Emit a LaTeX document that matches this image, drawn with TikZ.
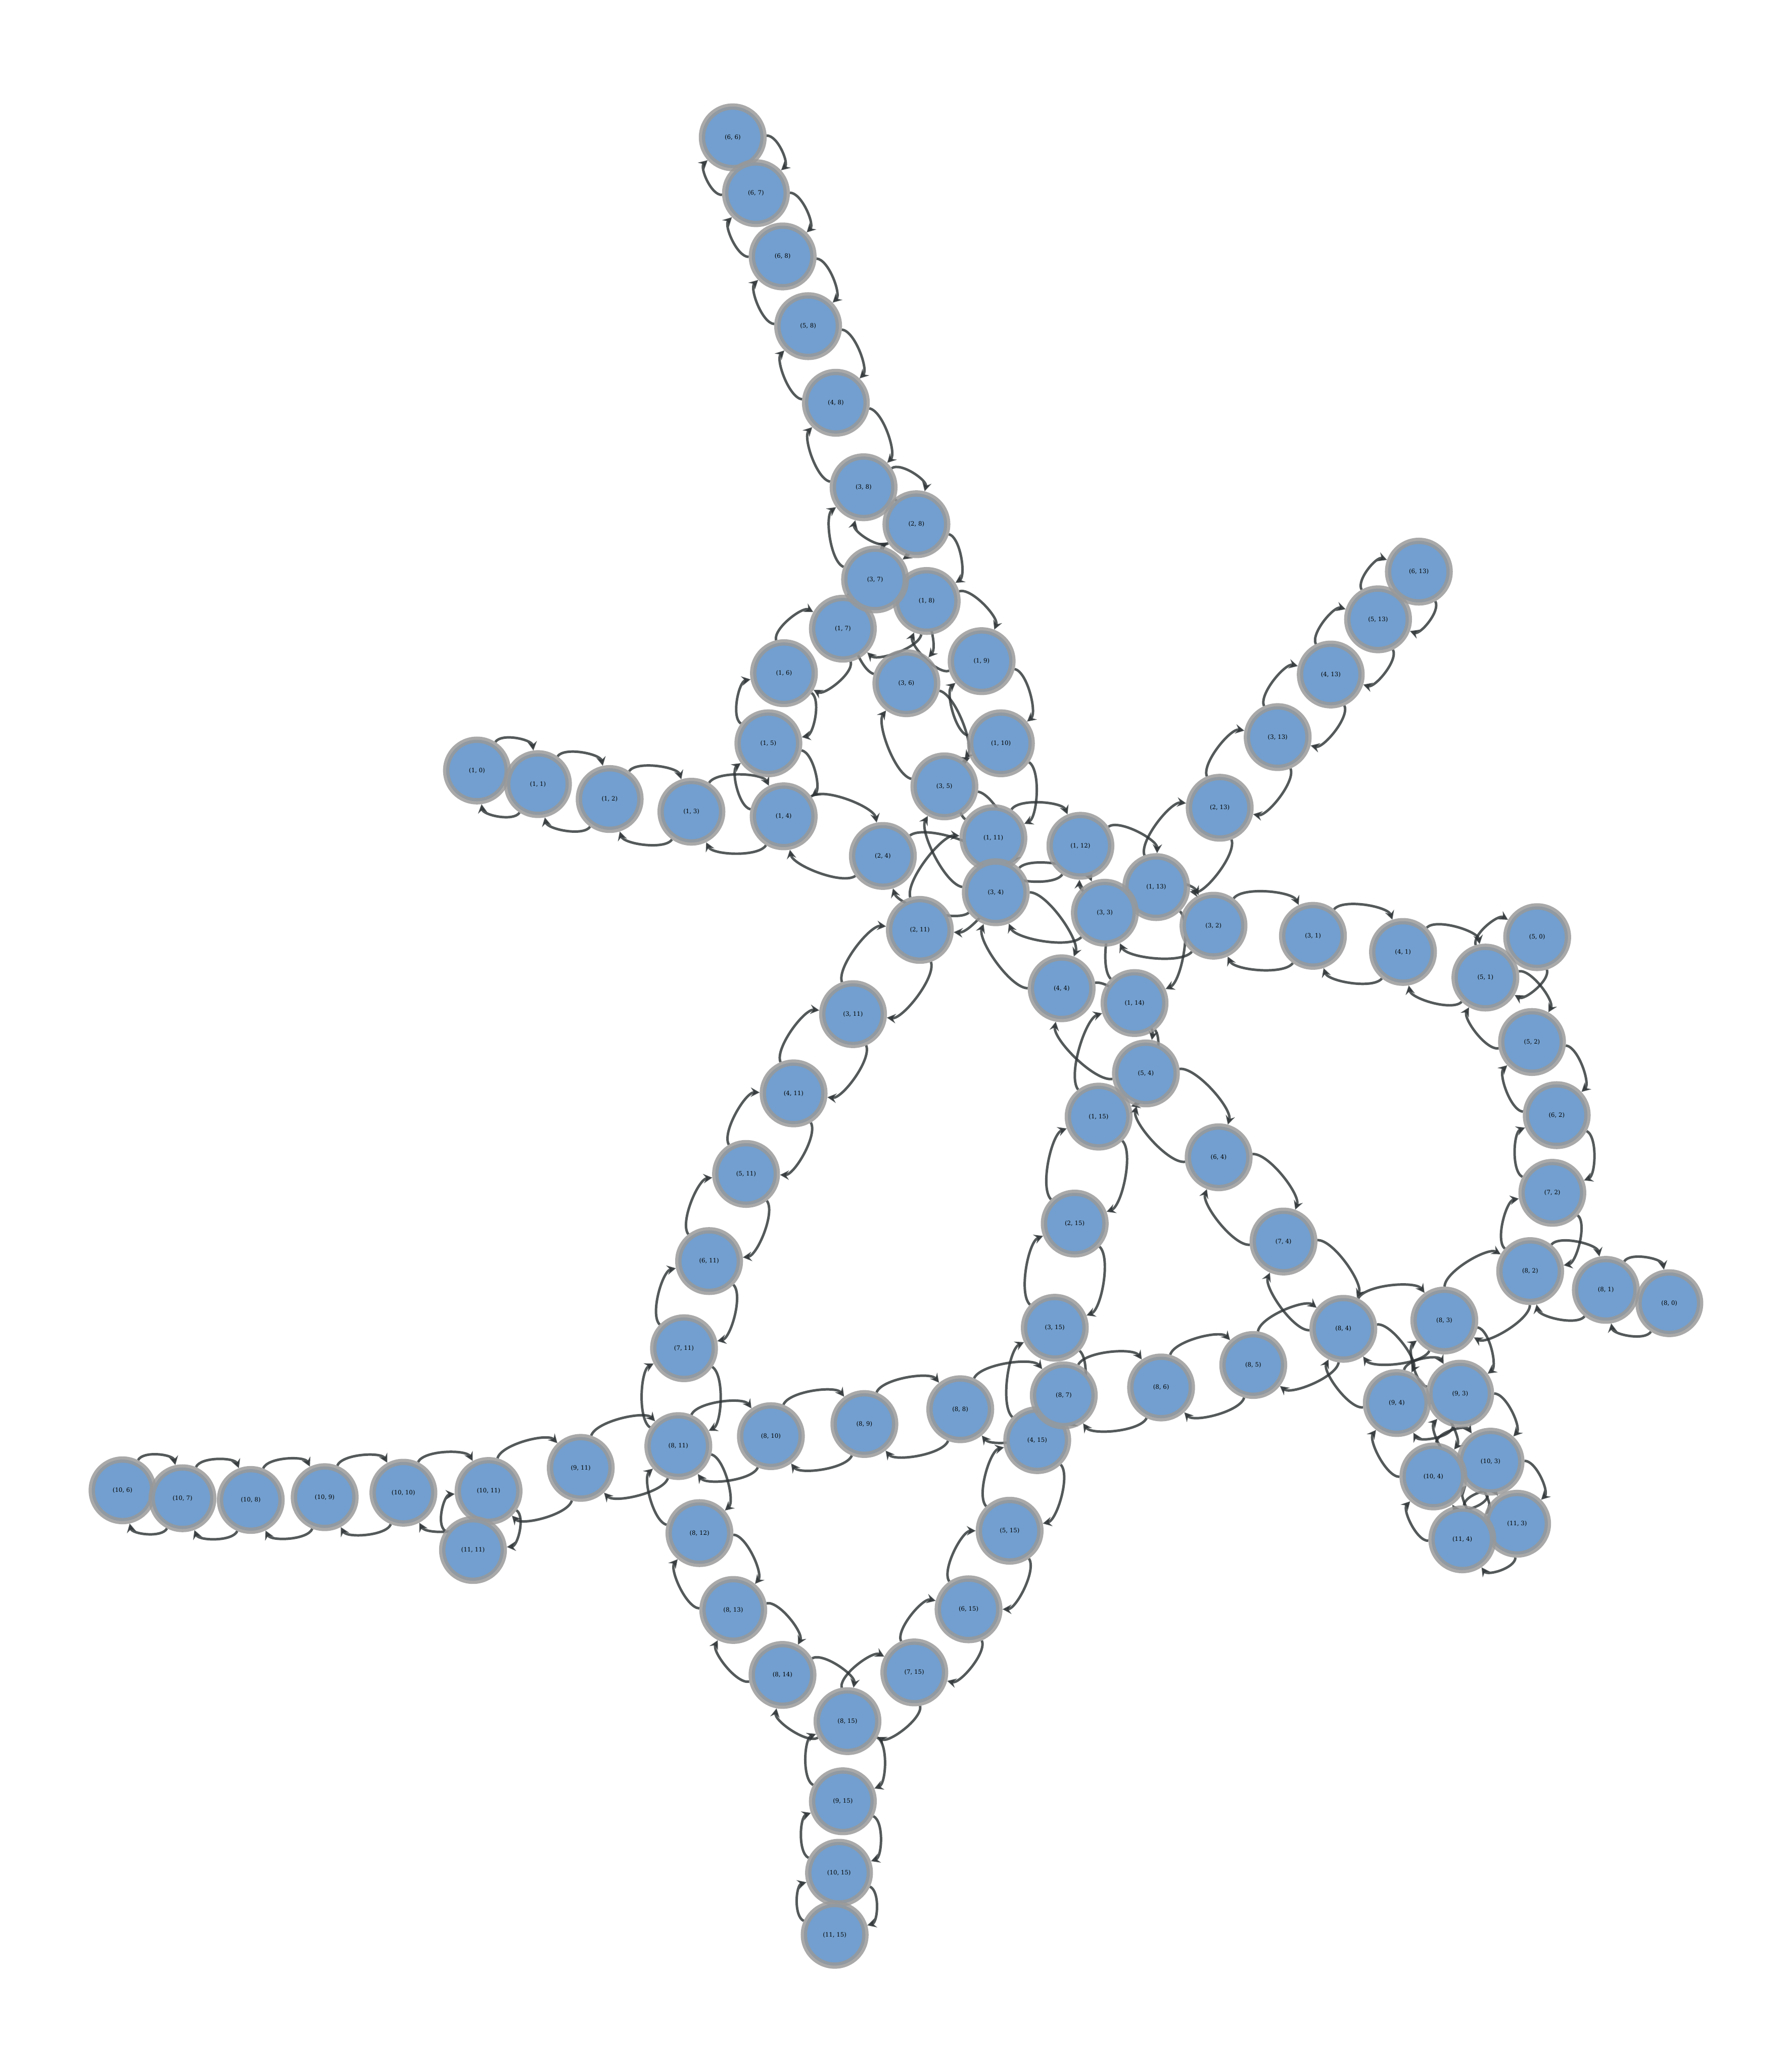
\documentclass[tikz,border=0pt]{standalone}
\usepackage{fontspec}
\newfontfamily\lblfont{DejaVu Serif}
\usetikzlibrary{calc,arrows.meta}
\definecolor{vfill}{HTML}{729FCF}
\definecolor{vring}{RGB}{152,152,152}
\definecolor{ecol}{HTML}{2E3436}
\pgfdeclarelayer{bg}
\pgfsetlayers{bg,main}
\newcommand\bulge{32pt}
\newcommand\mkV[4]{\node[vtx] (v#1x#2) at (#3,-#4) {(#1, #2)};}
\newcommand\mkEdir[2]{\draw[edg] (v#1) .. controls ($(v#1)!0.25!(v#2)!\bulge!90:(v#2)$) and ($(v#1)!0.75!(v#2)!\bulge!90:(v#2)$) .. (v#2);}
\newcommand\mkE[2]{\mkEdir{#1}{#2}\mkEdir{#2}{#1}}
\tikzset{
  vtx/.style={circle, minimum size=46.6pt, inner sep=0pt, fill=vfill, draw=vring, draw opacity=0.83, line width=4.8pt, font={\lblfont\fontsize{4.5}{5}\selectfont}},
  edg/.style={draw=ecol, opacity=0.82, line width=1.9pt, -{Stealth[length=6.8pt,width=7.2pt,inset=2.4pt]}}
}
\begin{document}
\begin{tikzpicture}[x=1pt,y=1pt]
\useasboundingbox (0,0) rectangle (1357,-1567.6);
% vertices in index order
\mkV{1}{0}{361.2}{583.5}
\mkV{1}{1}{407.4}{593.8}
\mkV{1}{2}{461.7}{605.1}
\mkV{1}{3}{523.6}{614.7}
\mkV{1}{4}{593.5}{618.2}
\mkV{1}{5}{581.9}{562.9}
\mkV{1}{6}{593.7}{509.8}
\mkV{1}{7}{638.3}{476.1}
\mkV{1}{8}{701.8}{455.1}
\mkV{1}{9}{743.4}{500.7}
\mkV{1}{10}{758.0}{562.9}
\mkV{1}{11}{752.3}{634.7}
\mkV{1}{12}{818.2}{640.5}
\mkV{1}{13}{875.6}{671.8}
\mkV{1}{14}{859.2}{759.6}
\mkV{1}{15}{832.0}{845.6}
\mkV{2}{4}{668.6}{648.2}
\mkV{2}{8}{694.0}{397.0}
\mkV{2}{11}{696.6}{704.2}
\mkV{2}{13}{923.7}{611.7}
\mkV{2}{15}{813.9}{926.6}
\mkV{3}{1}{994.3}{708.7}
\mkV{3}{2}{919.0}{701.0}
\mkV{3}{3}{836.7}{691.2}
\mkV{3}{4}{754.1}{675.7}
\mkV{3}{5}{715.2}{595.5}
\mkV{3}{6}{686.4}{517.4}
\mkV{3}{7}{662.7}{438.8}
\mkV{3}{8}{654.0}{369.0}
\mkV{3}{11}{646.0}{768.0}
\mkV{3}{13}{967.6}{558.2}
\mkV{3}{15}{798.8}{1005.5}
\mkV{4}{1}{1062.5}{720.9}
\mkV{4}{4}{804.0}{748.4}
\mkV{4}{8}{633.0}{305.0}
\mkV{4}{11}{601.0}{828.0}
\mkV{4}{13}{1007.8}{510.8}
\mkV{4}{15}{785.5}{1090.6}
\mkV{5}{0}{1164.1}{709.7}
\mkV{5}{1}{1124.9}{740.3}
\mkV{5}{2}{1160.2}{789.1}
\mkV{5}{4}{867.8}{812.9}
\mkV{5}{8}{612.0}{247.0}
\mkV{5}{11}{565.0}{889.0}
\mkV{5}{13}{1043.6}{469.0}
\mkV{5}{15}{764.6}{1159.2}
\mkV{6}{2}{1178.9}{844.5}
\mkV{6}{4}{922.9}{876.4}
\mkV{6}{6}{554.9}{104.0}
\mkV{6}{7}{572.5}{146.3}
\mkV{6}{8}{592.7}{194.2}
\mkV{6}{11}{537.0}{955.0}
\mkV{6}{13}{1074.5}{432.9}
\mkV{6}{15}{733.5}{1218.7}
\mkV{7}{2}{1175.6}{903.3}
\mkV{7}{4}{972.0}{940.2}
\mkV{7}{11}{518.0}{1021.0}
\mkV{7}{15}{692.4}{1266.5}
\mkV{8}{0}{1264.2}{986.9}
\mkV{8}{1}{1216.1}{976.8}
\mkV{8}{2}{1158.8}{962.6}
\mkV{8}{3}{1093.8}{1000.0}
\mkV{8}{4}{1017.3}{1006.3}
\mkV{8}{5}{949.1}{1033.7}
\mkV{8}{6}{879.3}{1050.7}
\mkV{8}{7}{805.6}{1056.7}
\mkV{8}{8}{727.2}{1067.2}
\mkV{8}{9}{654.6}{1078.4}
\mkV{8}{10}{583.8}{1087.6}
\mkV{8}{11}{513.7}{1095.1}
\mkV{8}{12}{529.7}{1161.0}
\mkV{8}{13}{555.3}{1219.2}
\mkV{8}{14}{592.6}{1268.4}
\mkV{8}{15}{641.8}{1303.4}
\mkV{9}{3}{1105.8}{1055.4}
\mkV{9}{4}{1057.8}{1062.5}
\mkV{9}{11}{439.8}{1111.6}
\mkV{9}{15}{638.3}{1364.1}
\mkV{10}{3}{1128.8}{1106.9}
\mkV{10}{4}{1085.5}{1118.1}
\mkV{10}{6}{92.8}{1128.6}
\mkV{10}{7}{138.2}{1134.6}
\mkV{10}{8}{189.9}{1135.9}
\mkV{10}{9}{245.9}{1133.8}
\mkV{10}{10}{305.5}{1130.4}
\mkV{10}{11}{370.0}{1129.1}
\mkV{10}{15}{635.4}{1418.2}
\mkV{11}{3}{1148.9}{1153.9}
\mkV{11}{4}{1107.4}{1165.7}
\mkV{11}{11}{358.2}{1173.8}
\mkV{11}{15}{632.1}{1465.2}
\begin{pgfonlayer}{bg}
\mkE{6x6}{6x7}
\mkE{6x7}{6x8}
\mkE{6x8}{5x8}
\mkE{5x8}{4x8}
\mkE{4x8}{3x8}
\mkE{3x8}{2x8}
\mkE{3x8}{3x7}
\mkE{2x8}{1x8}
\mkE{3x7}{3x6}
\mkE{1x8}{1x7}
\mkE{1x8}{1x9}
\mkE{1x7}{1x6}
\mkE{1x6}{1x5}
\mkE{1x5}{1x4}
\mkE{1x4}{1x3}
\mkE{1x3}{1x2}
\mkE{1x2}{1x1}
\mkE{1x1}{1x0}
\mkE{1x4}{2x4}
\mkE{2x4}{3x4}
\mkE{3x6}{3x5}
\mkE{3x5}{3x4}
\mkE{1x9}{1x10}
\mkE{1x10}{1x11}
\mkE{1x11}{1x12}
\mkE{1x12}{1x13}
\mkE{1x11}{2x11}
\mkE{2x11}{3x11}
\mkE{3x11}{4x11}
\mkE{4x11}{5x11}
\mkE{5x11}{6x11}
\mkE{6x11}{7x11}
\mkE{7x11}{8x11}
\mkE{8x11}{8x10}
\mkE{8x10}{8x9}
\mkE{8x9}{8x8}
\mkE{8x8}{8x7}
\mkE{8x7}{8x6}
\mkE{8x6}{8x5}
\mkE{8x5}{8x4}
\mkE{8x4}{8x3}
\mkE{8x3}{8x2}
\mkE{8x2}{8x1}
\mkE{8x1}{8x0}
\mkE{8x2}{7x2}
\mkE{7x2}{6x2}
\mkE{6x2}{5x2}
\mkE{5x2}{5x1}
\mkE{5x1}{5x0}
\mkE{5x1}{4x1}
\mkE{4x1}{3x1}
\mkE{3x1}{3x2}
\mkE{3x2}{3x3}
\mkE{3x3}{3x4}
\mkE{3x4}{4x4}
\mkE{4x4}{5x4}
\mkE{5x4}{6x4}
\mkE{6x4}{7x4}
\mkE{7x4}{8x4}
\mkE{8x4}{9x4}
\mkE{9x4}{10x4}
\mkE{10x4}{11x4}
\mkE{8x3}{9x3}
\mkE{9x3}{10x3}
\mkE{10x3}{11x3}
\mkE{9x3}{9x4}
\mkE{10x3}{10x4}
\mkE{11x3}{11x4}
\mkE{1x13}{1x14}
\mkE{1x14}{1x15}
\mkE{1x15}{2x15}
\mkE{2x15}{3x15}
\mkE{3x15}{4x15}
\mkE{4x15}{5x15}
\mkE{5x15}{6x15}
\mkE{6x15}{7x15}
\mkE{7x15}{8x15}
\mkE{8x15}{9x15}
\mkE{9x15}{10x15}
\mkE{10x15}{11x15}
\mkE{8x11}{8x12}
\mkE{8x12}{8x13}
\mkE{8x13}{8x14}
\mkE{8x14}{8x15}
\mkE{8x11}{9x11}
\mkE{9x11}{10x11}
\mkE{10x11}{10x10}
\mkE{10x10}{10x9}
\mkE{10x9}{10x8}
\mkE{10x8}{10x7}
\mkE{10x7}{10x6}
\mkE{10x11}{11x11}
\mkE{1x13}{2x13}
\mkE{2x13}{3x13}
\mkE{3x13}{4x13}
\mkE{4x13}{5x13}
\mkE{5x13}{6x13}
\end{pgfonlayer}
\end{tikzpicture}
\end{document}
